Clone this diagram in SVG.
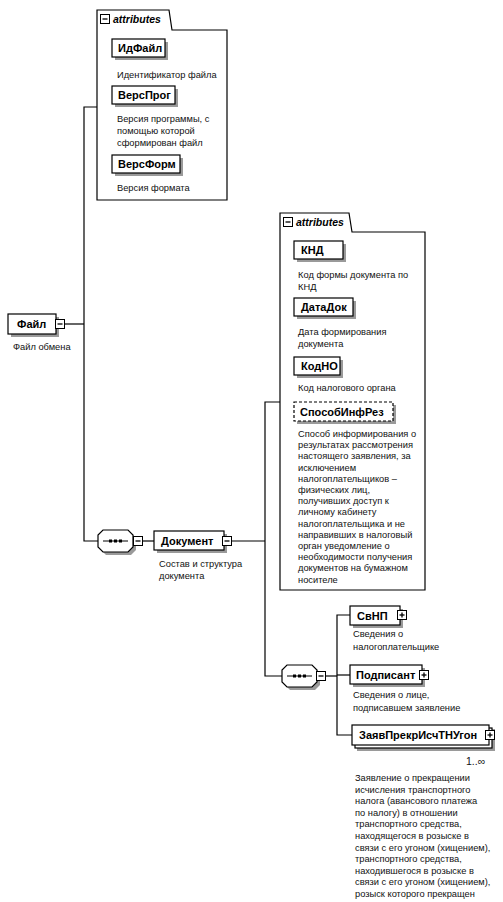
<svg xmlns="http://www.w3.org/2000/svg" width="503" height="902" viewBox="0 0 503 902">
<defs>
<style>
.bg{fill:#fff}
.box{fill:#fff;stroke:#000;stroke-width:1.2}
.dash{fill:#fff;stroke:#000;stroke-width:1.2;stroke-dasharray:3 2}
.sh{fill:#9a9a9a}
.ln{stroke:#000;stroke-width:1.2;fill:none}
.nm{font-family:"Liberation Sans",Arial,sans-serif;font-weight:bold;font-size:11px;fill:#000}
.ds{font-family:"Liberation Sans",Arial,sans-serif;font-size:9.3px;fill:#111}
.at{font-family:"Liberation Sans",Arial,sans-serif;font-style:italic;font-weight:bold;font-size:10.5px;fill:#000}
.ic{fill:#fff;stroke:#000;stroke-width:1}
.attr{fill:#fff;stroke:#000;stroke-width:1.2}
</style>
<g id="minus"><rect class="ic" x="-4.5" y="-4.5" width="9" height="9"/><line x1="-2.5" y1="0" x2="2.5" y2="0" stroke="#000" stroke-width="1.3"/></g>
<g id="plus"><rect class="ic" x="-4.5" y="-4.5" width="9" height="9"/><line x1="-2.5" y1="0" x2="2.5" y2="0" stroke="#000" stroke-width="1.3"/><line x1="0" y1="-2.5" x2="0" y2="2.5" stroke="#000" stroke-width="1.3"/></g>
<g id="seq">
<polygon class="sh" points="8,3 33,3 38,8 38,20 33,25 8,25 3,20 3,8"/>
<polygon class="box" points="5,0 30,0 35,5 35,17 30,22 5,22 0,17 0,5"/>
<line x1="5" y1="11" x2="30" y2="11" stroke="#000" stroke-width="1"/>
<rect x="11" y="9.5" width="3" height="3" fill="#000"/><rect x="16" y="9.5" width="3" height="3" fill="#000"/><rect x="21" y="9.5" width="3" height="3" fill="#000"/>
</g>
</defs>
<rect class="bg" x="0" y="0" width="503" height="902"/>

<g id="connectors">
<polyline class="ln" points="64,324 84,324"/>
<polyline class="ln" points="97,107 84,107 84,541 98,541"/>
<line class="ln" x1="142" y1="541" x2="154" y2="541"/>
<line class="ln" x1="232" y1="541" x2="265" y2="541"/>
<polyline class="ln" points="280,402 265,402 265,676 282,676"/>
<line class="ln" x1="325" y1="676" x2="337" y2="676"/>
<polyline class="ln" points="350,615 337,615 337,735 352,735"/>
<line class="ln" x1="337" y1="675" x2="350" y2="675"/>
</g>

<g id="attributes1">
<polygon class="attr" points="97,10 169,10 172,30 227,30 227,200 97,200"/>
<use href="#minus" x="105" y="19"/>
<text class="at" x="113" y="23">attributes</text>
</g>
<g id="ИдФайл">
<rect class="sh" x="115" y="42" width="53" height="18"/>
<rect class="box" x="112" y="39" width="53" height="18"/>
<text class="nm" x="118" y="52">ИдФайл</text>
<text class="ds" x="117" y="78">Идентификатор файла</text>
</g>
<g id="ВерсПрог">
<rect class="sh" x="115" y="89" width="63" height="18"/>
<rect class="box" x="112" y="86" width="63" height="18"/>
<text class="nm" x="118" y="99">ВерсПрог</text>
<text class="ds" x="117" y="122">Версия программы, с</text>
<text class="ds" x="117" y="134">помощью которой</text>
<text class="ds" x="117" y="146">сформирован файл</text>
</g>
<g id="ВерсФорм">
<rect class="sh" x="115" y="158" width="68" height="18"/>
<rect class="box" x="112" y="155" width="68" height="18"/>
<text class="nm" x="118" y="168">ВерсФорм</text>
<text class="ds" x="117" y="191">Версия формата</text>
</g>

<g id="Файл">
<rect class="sh" x="11" y="317" width="48" height="20"/>
<rect class="box" x="8" y="314" width="48" height="20"/>
<text class="nm" x="17" y="328">Файл</text>
<use href="#minus" x="60" y="324"/>
<text class="ds" x="13" y="350">Файл обмена</text>
</g>

<g id="sequence1">
<use href="#seq" x="98" y="530"/>
<use href="#minus" x="138" y="541"/>
</g>

<g id="Документ">
<rect class="sh" x="157" y="534" width="70" height="19"/>
<rect class="box" x="154" y="531" width="70" height="19"/>
<text class="nm" x="161" y="545">Документ</text>
<use href="#minus" x="227" y="541"/>
<text class="ds" x="159" y="567">Состав и структура</text>
<text class="ds" x="159" y="579">документа</text>
</g>

<g id="attributes2">
<polygon class="attr" points="280,213 349,213 352,232 425,232 425,590 280,590"/>
<use href="#minus" x="288" y="222"/>
<text class="at" x="296" y="226">attributes</text>
</g>
<g id="КНД">
<rect class="sh" x="297" y="244" width="49" height="18"/>
<rect class="box" x="294" y="241" width="49" height="18"/>
<text class="nm" x="301" y="254">КНД</text>
<text class="ds" x="298" y="278">Код формы документа по</text>
<text class="ds" x="298" y="290">КНД</text>
</g>
<g id="ДатаДок">
<rect class="sh" x="297" y="301" width="59" height="18"/>
<rect class="box" x="294" y="298" width="59" height="18"/>
<text class="nm" x="301" y="311">ДатаДок</text>
<text class="ds" x="298" y="335">Дата формирования</text>
<text class="ds" x="298" y="347">документа</text>
</g>
<g id="КодНО">
<rect class="sh" x="297" y="360" width="46" height="18"/>
<rect class="box" x="294" y="357" width="46" height="18"/>
<text class="nm" x="301" y="370">КодНО</text>
<text class="ds" x="298" y="391">Код налогового органа</text>
</g>
<g id="СпособИнфРез">
<rect class="sh" x="297" y="405" width="99" height="19"/>
<rect class="dash" x="294" y="402" width="99" height="19"/>
<text class="nm" x="300" y="416">СпособИнфРез</text>
<text class="ds" x="298" y="437">Способ информирования о</text>
<text class="ds" x="298" y="448.2">результатах рассмотрения</text>
<text class="ds" x="298" y="459.4">настоящего заявления, за</text>
<text class="ds" x="298" y="470.6">исключением</text>
<text class="ds" x="298" y="481.8">налогоплательщиков –</text>
<text class="ds" x="298" y="493">физических лиц,</text>
<text class="ds" x="298" y="504.2">получивших доступ к</text>
<text class="ds" x="298" y="515.4">личному кабинету</text>
<text class="ds" x="298" y="526.6">налогоплательщика и не</text>
<text class="ds" x="298" y="537.8">направивших в налоговый</text>
<text class="ds" x="298" y="549">орган уведомление о</text>
<text class="ds" x="298" y="560.2">необходимости получения</text>
<text class="ds" x="298" y="571.4">документов на бумажном</text>
<text class="ds" x="298" y="582.6">носителе</text>
</g>

<g id="sequence2">
<use href="#seq" x="282" y="665"/>
<use href="#minus" x="321" y="676"/>
</g>

<g id="СвНП">
<rect class="sh" x="353" y="609" width="50" height="19"/>
<rect class="box" x="350" y="606" width="50" height="19"/>
<text class="nm" x="357" y="620">СвНП</text>
<use href="#plus" x="402" y="615"/>
<text class="ds" x="353" y="637">Сведения о</text>
<text class="ds" x="353" y="650">налогоплательщике</text>
</g>
<g id="Подписант">
<rect class="sh" x="353" y="668" width="72" height="19"/>
<rect class="box" x="350" y="665" width="72" height="19"/>
<text class="nm" x="356" y="679">Подписант</text>
<use href="#plus" x="424" y="675"/>
<text class="ds" x="353" y="698">Сведения о лице,</text>
<text class="ds" x="353" y="711">подписавшем заявление</text>
</g>
<g id="ЗаявПрекрИсчТНУгон">
<rect class="sh" x="357" y="729" width="138" height="22"/>
<rect class="box" x="355" y="728" width="137" height="20"/>
<rect class="box" x="352" y="725" width="137" height="20"/>
<text class="nm" x="359" y="739">ЗаявПрекрИсчТНУгон</text>
<use href="#plus" x="490" y="735"/>
<text class="ds" x="466" y="765" style="font-size:10.5px">1..∞</text>
<text class="ds" x="355" y="781">Заявление о прекращении</text>
<text class="ds" x="355" y="792.6">исчисления транспортного</text>
<text class="ds" x="355" y="804.2">налога (авансового платежа</text>
<text class="ds" x="355" y="815.8">по налогу) в отношении</text>
<text class="ds" x="355" y="827.4">транспортного средства,</text>
<text class="ds" x="355" y="839">находящегося в розыске в</text>
<text class="ds" x="355" y="850.6">связи с его угоном (хищением),</text>
<text class="ds" x="355" y="862.2">транспортного средства,</text>
<text class="ds" x="355" y="873.8">находившегося в розыске в</text>
<text class="ds" x="355" y="885.4">связи с его угоном (хищением),</text>
<text class="ds" x="355" y="897">розыск которого прекращен</text>
</g>
</svg>
